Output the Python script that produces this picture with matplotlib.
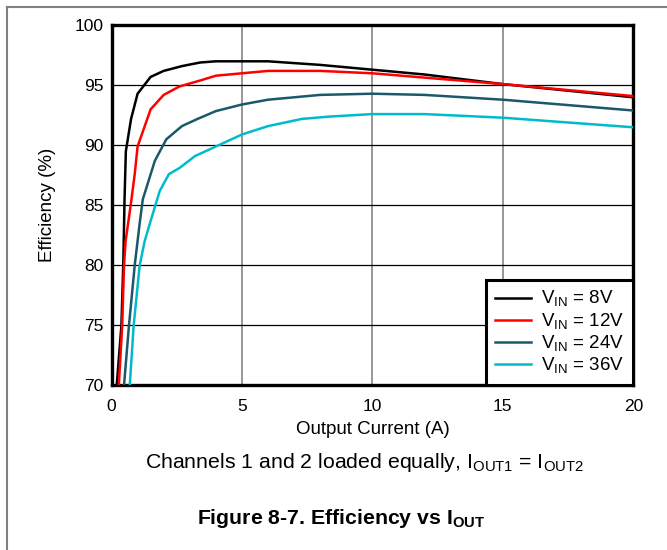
import numpy as np
import matplotlib.pyplot as plt
from matplotlib.lines import Line2D

plt.rcParams["font.family"] = ["Liberation Sans", "DejaVu Sans"]
plt.rcParams["mathtext.fontset"] = "custom"
plt.rcParams["mathtext.rm"] = "Liberation Sans"
plt.rcParams["mathtext.bf"] = "Liberation Sans:bold"

# efficiency curves (x in A, y in %)
x_8v = [0.15, 0.2, 0.38, 0.45, 0.5, 0.55, 0.75, 1.0, 1.5, 2.0, 2.7, 3.4, 4.0, 6.0, 8.0, 10.0, 12.0, 15.0, 20.0]
y_8v = [68.0, 70.0, 75.0, 80.0, 85.5, 89.5, 92.2, 94.3, 95.7, 96.2, 96.6, 96.9, 97.0, 97.0, 96.7, 96.3, 95.9, 95.1, 94.0]

x_12v = [0.24, 0.28, 0.41, 0.48, 0.54, 0.76, 0.89, 1.0, 1.5, 2.0, 2.6, 3.4, 4.0, 5.0, 6.0, 8.0, 10.0, 15.0, 20.0]
y_12v = [68.0, 70.0, 75.0, 80.0, 82.0, 85.4, 87.6, 89.9, 93.0, 94.2, 94.9, 95.4, 95.8, 96.0, 96.2, 96.2, 96.0, 95.1, 94.1]

x_24v = [0.44, 0.48, 0.67, 0.89, 1.08, 1.2, 1.66, 2.1, 2.7, 3.3, 4.0, 5.0, 6.0, 8.0, 10.0, 12.0, 15.0, 20.0]
y_24v = [68.0, 70.0, 75.0, 80.0, 83.5, 85.5, 88.7, 90.5, 91.6, 92.2, 92.85, 93.4, 93.8, 94.2, 94.3, 94.2, 93.8, 92.9]

x_36v = [0.66, 0.7, 0.85, 1.08, 1.27, 1.5, 1.85, 2.2, 2.6, 3.2, 4.0, 5.0, 6.0, 7.3, 8.4, 10.0, 12.0, 15.0, 20.0]
y_36v = [68.0, 70.0, 75.0, 80.0, 82.0, 83.7, 86.2, 87.6, 88.1, 89.1, 89.9, 90.9, 91.6, 92.2, 92.4, 92.6, 92.6, 92.3, 91.5]

labels = ["8V", "12V", "24V", "36V"]
colors = ["#000000", "#ff0000", "#1b5868", "#00bccb"]

W, H = 667, 550
fig = plt.figure(figsize=(W / 100, H / 100), dpi=100)
left, right, top, bottom = 111.5, 633.3, 25.3, 385.3
ax = fig.add_axes([left / W, 1 - bottom / H, (right - left) / W, (bottom - top) / H])

ax.set_xlim(0, 20)
ax.set_ylim(70, 100)
ax.set_xticks([0, 5, 10, 15, 20])
ax.set_yticks([70, 75, 80, 85, 90, 95, 100])

for v in [5, 10, 15]:
    ax.axvline(v, color="#7a7a7a", lw=1.1, zorder=1)
for v in [75, 80, 85, 90, 95]:
    ax.axhline(v, color="black", lw=0.9, zorder=1)

series = [(x_8v, y_8v), (x_12v, y_12v), (x_24v, y_24v), (x_36v, y_36v)]
for (xs, ys), lab, c in zip(series, labels, colors):
    ax.plot(xs, ys, color=c, lw=1.8, zorder=3,
            label=r"V$_{\mathregular{IN}}$ = " + lab)

for s in ax.spines.values():
    s.set_linewidth(2.4)
ax.tick_params(length=0, labelsize=12.5)
ax.tick_params(axis="y", pad=6)
ax.tick_params(axis="x", pad=10)
ax.set_xlabel("Output Current (A)", fontsize=13.5, labelpad=5)
ax.set_ylabel("Efficiency (%)", fontsize=13.5, labelpad=13)

leg = ax.legend(loc="lower right", fontsize=13.5, frameon=True, fancybox=False,
                borderaxespad=0, handlelength=1.9, handletextpad=0.55,
                labelspacing=0.1, borderpad=0.5)
leg.get_frame().set_edgecolor("black")
leg.get_frame().set_linewidth(2.2)
leg.get_frame().set_alpha(1)
leg.set_zorder(5)

fig.text(364.5 / W, 1 - 462 / H,
         r"Channels 1 and 2 loaded equally, I$_{\mathregular{OUT1}}$ = I$_{\mathregular{OUT2}}$",
         ha="center", va="center", fontsize=15.3)
fig.text(341 / W, 1 - 519 / H, r"Figure 8-7. Efficiency vs I$_{\mathbf{OUT}}$",
         ha="center", va="center", fontsize=15.3, fontweight="bold")

# page frame lines
fig.add_artist(Line2D([7 / W, 1], [1 - 7 / H, 1 - 7 / H], color="#808080", lw=1.5))
fig.add_artist(Line2D([7 / W, 7 / W], [0, 1 - 7 / H], color="#808080", lw=1.5))

fig.savefig("out.png", dpi=100)
